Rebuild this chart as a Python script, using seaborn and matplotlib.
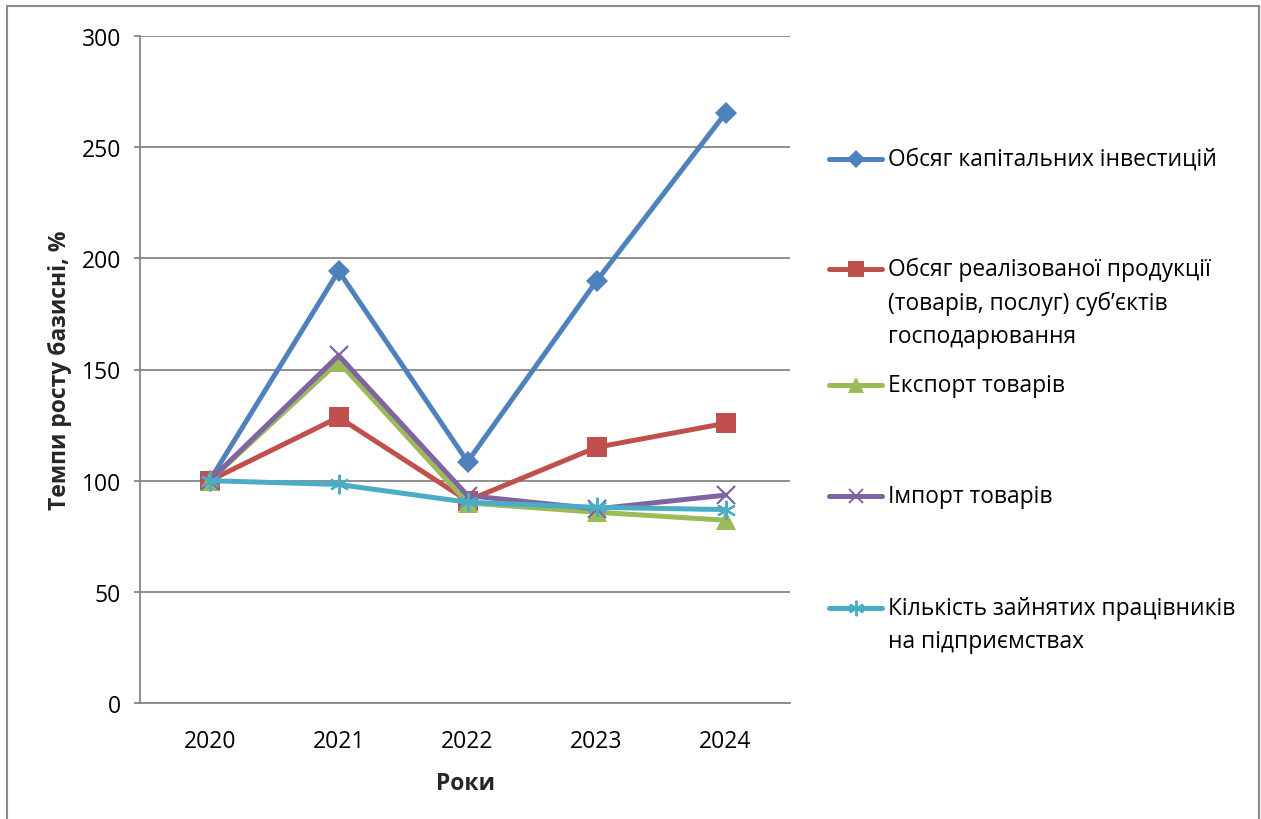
import matplotlib
matplotlib.use("Agg")
import matplotlib.pyplot as plt
from matplotlib.lines import Line2D
import seaborn as sns
import pandas as pd

# Базисні темпи росту показників, % (2020 = 100)
years = ["2020", "2021", "2022", "2023", "2024"]
capital_investments = [100, 194.3, 108.5, 189.8, 265.3]
sales_volume = [100, 128.5, 91.0, 115.0, 125.8]
goods_export = [100, 153.5, 90.0, 85.8, 82.2]
goods_import = [100, 156.3, 93.3, 87.3, 93.5]
employees = [100, 98.3, 90.3, 88.0, 87.0]

series_names = [
    "Обсяг капітальних інвестицій",
    "Обсяг реалізованої продукції\n(товарів, послуг) суб’єктів\nгосподарювання",
    "Експорт товарів",
    "Імпорт товарів",
    "Кількість зайнятих працівників\nна підприємствах",
]
series_values = [capital_investments, sales_volume, goods_export, goods_import, employees]

colors = ["#4F81BD", "#C0504D", "#9BBB59", "#8064A2", "#4BACC6"]
markers = ["D", "s", "^", "x", (6, 2, 0)]
marker_sizes = [11, 14, 14, 13, 14]

sns.set_theme(style="white")
plt.rcParams["font.family"] = ["Open Sans", "DejaVu Sans"]

W, H = 1261, 820
fig = plt.figure(figsize=(W / 100, H / 100), dpi=100)
ax = fig.add_axes([140 / W, 1 - 704 / H, 650 / W, 667 / H])

x_pos = list(range(len(years)))
for name, vals, c, m, ms in zip(series_names, series_values, colors, markers, marker_sizes):
    df = pd.DataFrame({"x": x_pos, "y": vals})
    sns.lineplot(
        data=df, x="x", y="y", ax=ax, color=c, linewidth=3.6,
        marker=m, markersize=ms, markeredgecolor=c, markerfacecolor=c,
        markeredgewidth=1.6 if m in ("x",) or isinstance(m, tuple) else 0,
        legend=False, zorder=3,
    )

ax.set_xlim(-0.54, 4.5)
ax.set_ylim(0, 300)
ax.set_yticks(range(0, 301, 50))
ax.set_xticks(x_pos)
ax.set_xticklabels(years)

grid_c = "#868686"
ax.yaxis.grid(True, color=grid_c, linewidth=1.3, zorder=0)
ax.xaxis.grid(False)
for side in ("top", "right"):
    ax.spines[side].set_visible(False)
for side in ("left", "bottom"):
    ax.spines[side].set_color(grid_c)
    ax.spines[side].set_linewidth(1.3)

ax.tick_params(axis="y", which="both", left=True, length=4.5, width=1.3, color=grid_c,
               direction="out", pad=9, labelsize=16.5, labelcolor="black")
ax.tick_params(axis="x", bottom=False, pad=13, labelsize=16.5, labelcolor="black")

ax.set_xlabel("Роки", fontsize=16.5, fontweight="bold", labelpad=13)
ax.set_ylabel("Темпи росту базисні, %", fontsize=16.5, fontweight="bold", labelpad=7)

# Легенда праворуч від області побудови
entry_y = [160, 270, 386, 497, 609]
line_x0, line_x1, text_x = 829, 882, 888
for name, c, m, ms, y in zip(series_names, colors, markers, marker_sizes, entry_y):
    fy = 1 - y / H
    fig.add_artist(Line2D([line_x0 / W, line_x1 / W], [fy, fy], transform=fig.transFigure,
                          color=c, linewidth=3.6, solid_capstyle="round"))
    fig.add_artist(Line2D([(line_x0 + line_x1) / 2 / W], [fy], transform=fig.transFigure,
                          color=c, marker=m, markersize=ms * 0.8, markeredgecolor=c,
                          markerfacecolor=c,
                          markeredgewidth=1.4 if m == "x" or isinstance(m, tuple) else 0))
    for i, line in enumerate(name.split("\n")):
        fig.text(text_x / W, 1 - (y + i * 33.5) / H, line, fontsize=16.4,
                 ha="left", va="center", color="black")

# Рамка діаграми
frame_c = "#8C8C8C"
for xs, ys in (([7, 7], [7, 830]), ([7, 1259], [7, 7]), ([1259, 1259], [7, 830])):
    fig.add_artist(Line2D([v / W for v in xs], [1 - v / H for v in ys],
                          transform=fig.transFigure, color=frame_c, linewidth=1.5))

fig.savefig("out.png", dpi=100)
